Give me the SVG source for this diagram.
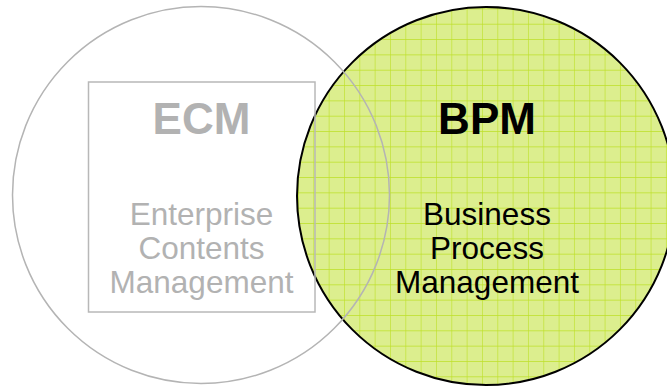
<svg xmlns="http://www.w3.org/2000/svg" width="667" height="387" viewBox="0 0 667 387">
<style>
.t{font-family:"Liberation Sans",Arial,sans-serif;text-anchor:middle}
.big{font-size:44px;font-weight:bold}
.small{font-size:31.5px}
.grey{fill:#b2b2b2}
.black{fill:#000}
</style>
<defs>
<pattern id="grid" x="298" y="8.4" width="15.33" height="15.33" patternUnits="userSpaceOnUse">
<rect width="15.33" height="15.33" fill="#dcee8e"/>
<path d="M0 0V15.33M0 0H15.33" stroke="#bde025" stroke-width="1.2" fill="none"/>
</pattern>
</defs>
<rect width="667" height="387" fill="#fff"/>
<g id="bpm">
<circle cx="486" cy="196" r="189" fill="url(#grid)" stroke="#000" stroke-width="2"/>
</g>
<g id="ecm">
<circle cx="201" cy="195" r="188.5" fill="none" stroke="#b4b4b4" stroke-width="1.5"/>
<rect x="88.5" y="82" width="226.5" height="230" fill="none" stroke="#b8b8b8" stroke-width="1.5"/>
<text class="t big grey" x="201.5" y="133.5">ECM</text>
<text class="t small grey" x="201.5" y="224.5">Enterprise</text>
<text class="t small grey" x="201.5" y="258.5">Contents</text>
<text class="t small grey" x="201.5" y="292.5">Management</text>
</g>
<g id="bpm-text">
<text class="t big black" x="487" y="133.5">BPM</text>
<text class="t small black" x="487" y="224.5">Business</text>
<text class="t small black" x="487" y="258.5">Process</text>
<text class="t small black" x="487" y="292.5">Management</text>
</g>
<g id="connectors"></g>
</svg>
